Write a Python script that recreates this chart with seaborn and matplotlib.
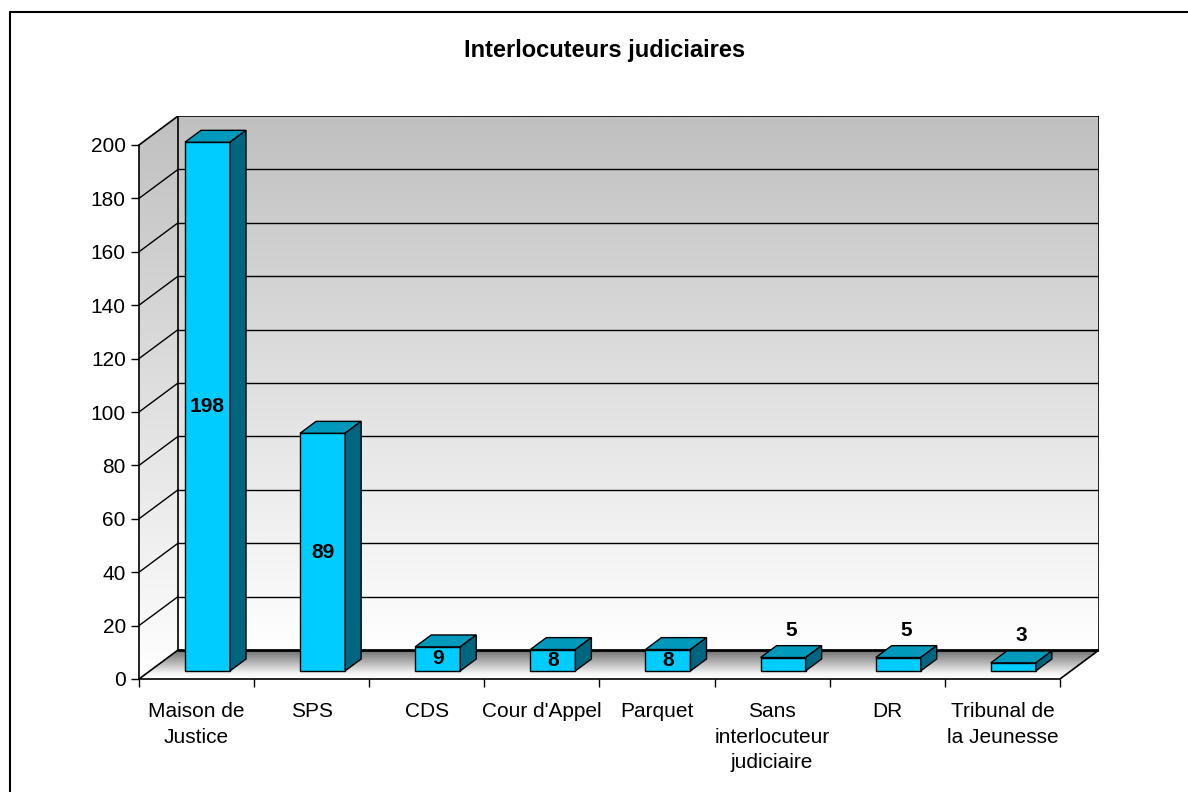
import numpy as np
import pandas as pd
import matplotlib
matplotlib.use("Agg")
import matplotlib.pyplot as plt
from matplotlib.patches import Polygon
from matplotlib.lines import Line2D
from matplotlib.colors import LinearSegmentedColormap
import matplotlib.transforms as mtransforms
import seaborn as sns

# ---------------- data ----------------
categories = ["Maison de Justice", "SPS", "CDS", "Cour d'Appel", "Parquet",
              "Sans interlocuteur judiciaire", "DR", "Tribunal de la Jeunesse"]
values = [198, 89, 9, 8, 8, 5, 5, 3]
tick_labels = ["Maison de\nJustice", "SPS", "CDS", "Cour d'Appel", "Parquet",
               "Sans\ninterlocuteur\njudiciaire", "DR", "Tribunal de\nla Jeunesse"]
y_ticks = [0, 20, 40, 60, 80, 100, 120, 140, 160, 180, 200]
title = "Interlocuteurs judiciaires"

# ---------------- style ----------------
sns.set_theme(style="white")
plt.rcParams["font.family"] = ["Liberation Sans", "DejaVu Sans"]
plt.rcParams["text.color"] = "black"

W, H = 1188, 792
fig = plt.figure(figsize=(W / 100, H / 100), dpi=100)

n = len(categories)
ymax = y_ticks[-1]
DX = 39 / 115            # depth offset in category units
DY = 29 * ymax / 534     # depth offset in value units
x0, x1 = -0.5, n - 0.5

ax = fig.add_axes([139 / W, 113 / H, 960 / W, 563 / H])

# ---------------- bars (front faces) ----------------
df = pd.DataFrame({"cat": categories, "val": values})
bar_w = 45 / 115
sns.barplot(data=df, x="cat", y="val", ax=ax, color="#00ccff", width=bar_w,
            saturation=1, edgecolor="black", linewidth=1.0, zorder=5)
bars = list(ax.patches)

ax.set_xlim(x0, x1 + DX)
ax.set_ylim(0, ymax + DY)
ax.set_xlabel("")
ax.set_ylabel("")

# ---------------- walls & floor ----------------
grad = np.linspace(0, 1, 256).reshape(-1, 1)
wall_cmap = LinearSegmentedColormap.from_list("wall", ["#ffffff", "#c0c0c0"])
floor_cmap = LinearSegmentedColormap.from_list(
    "floor", [(0.0, "#ffffff"), (0.2, "#f4f4f4"), (0.6, "#b0b0b0"), (1.0, "#707070")])

# back wall
ax.imshow(grad, cmap=wall_cmap, origin="lower", aspect="auto",
          extent=(x0 + DX, x1 + DX, DY, ymax + DY), zorder=0, interpolation="bilinear")

# left wall
lw_poly = Polygon([(x0, 0), (x0 + DX, DY), (x0 + DX, ymax + DY), (x0, ymax)],
                  closed=True, transform=ax.transData, fc="none", ec="none")
ax.add_patch(lw_poly)
im = ax.imshow(grad, cmap=wall_cmap, origin="lower", aspect="auto",
               extent=(x0, x0 + DX, 0, ymax + DY), zorder=0, interpolation="bilinear")
im.set_clip_path(lw_poly)

# floor
fl_poly = Polygon([(x0, 0), (x1, 0), (x1 + DX, DY), (x0 + DX, DY)],
                  closed=True, transform=ax.transData, fc="none", ec="none")
ax.add_patch(fl_poly)
im2 = ax.imshow(grad, cmap=floor_cmap, origin="lower", aspect="auto",
                extent=(x0, x1 + DX, 0, DY), zorder=0, interpolation="bilinear")
im2.set_clip_path(fl_poly)

ax.set_xlim(x0, x1 + DX)
ax.set_ylim(0, ymax + DY)

# gridlines
for v in y_ticks[1:-1]:
    ax.plot([x0 + DX, x1 + DX], [v + DY, v + DY], color="black", lw=1.0, zorder=1)
    ax.plot([x0, x0 + DX], [v, v + DY], color="black", lw=1.0, zorder=1)

# box edges
edge_kw = dict(color="black", lw=1.2, zorder=2, solid_capstyle="projecting")
ax.plot([x0, x0 + DX], [ymax, ymax + DY], **edge_kw)
ax.plot([x0 + DX, x1 + DX], [ymax + DY, ymax + DY], **edge_kw)
ax.plot([x1 + DX, x1 + DX], [DY, ymax + DY], **edge_kw)
ax.plot([x0 + DX, x0 + DX], [DY, ymax + DY], **edge_kw)
ax.plot([x0 + DX, x1 + DX], [DY, DY], color="black", lw=2.0, zorder=2)
ax.plot([x0, x0 + DX], [0, DY], **edge_kw)
ax.plot([x1, x1 + DX], [0, DY], **edge_kw)

# ---------------- 3D bar faces ----------------
f0, f1 = 0.28, 0.69
ox, oy = f0 * DX, f0 * DY
ddx, ddy = (f1 - f0) * DX, (f1 - f0) * DY
shift = mtransforms.Affine2D().translate(ox, oy) + ax.transData

for p, v in zip(bars, values):
    p.set_transform(shift)
    bx0 = p.get_x()
    bx1 = bx0 + p.get_width()
    h = p.get_height()
    top = Polygon([(bx0, h), (bx1, h), (bx1 + ddx, h + ddy), (bx0 + ddx, h + ddy)],
                  closed=True, fc="#0099bb", ec="black", lw=1.0, transform=shift, zorder=5)
    side = Polygon([(bx1, 0), (bx1 + ddx, ddy), (bx1 + ddx, h + ddy), (bx1, h)],
                   closed=True, fc="#006680", ec="black", lw=1.0, transform=shift, zorder=5)
    ax.add_patch(top)
    ax.add_patch(side)
    cx = bx0 + p.get_width() / 2
    if v >= 8:
        ax.text(cx, h / 2, str(v), transform=shift, ha="center", va="center",
                fontsize=15, fontweight="bold", color="black", zorder=6)
    else:
        ax.annotate(str(v), xy=(cx + ddx / 2, h + ddy), xycoords=shift,
                    xytext=(0, 11), textcoords="offset points",
                    ha="center", va="center", fontsize=15, fontweight="bold",
                    color="black", zorder=6)

# ---------------- axes ----------------
for s in ["top", "right"]:
    ax.spines[s].set_visible(False)
ax.spines["left"].set_bounds(0, ymax)
ax.spines["bottom"].set_bounds(x0, x1)
for s in ["left", "bottom"]:
    ax.spines[s].set_color("black")
    ax.spines[s].set_linewidth(1.2)
    ax.spines[s].set_zorder(3)

ax.set_yticks(y_ticks)
ax.set_yticklabels([str(t) for t in y_ticks])
ax.tick_params(axis="y", which="major", left=True, length=5.5, width=1, color="black",
               direction="out", pad=4, labelsize=15, labelcolor="black")

ax.set_xticks(range(n))
ax.set_xticklabels(tick_labels, fontsize=15, linespacing=1.44, color="black")
ax.set_xticks(np.arange(x0, x1 + 0.01, 1), minor=True)
ax.tick_params(axis="x", which="major", bottom=True, length=0, pad=16.5)
ax.tick_params(axis="x", which="minor", bottom=True, length=6, width=1, color="black",
               direction="out")

# ---------------- title & border ----------------
fig.text(605 / W, 1 - 50 / H, title, ha="center", va="center",
         fontsize=17, fontweight="bold", color="black")
fig.add_artist(Line2D([9.5 / W, 9.5 / W], [0, 1 - 12 / H], color="black", lw=1.5))
fig.add_artist(Line2D([9.5 / W, 1], [1 - 12 / H, 1 - 12 / H], color="black", lw=1.5))

fig.savefig("out.png", dpi=100)
